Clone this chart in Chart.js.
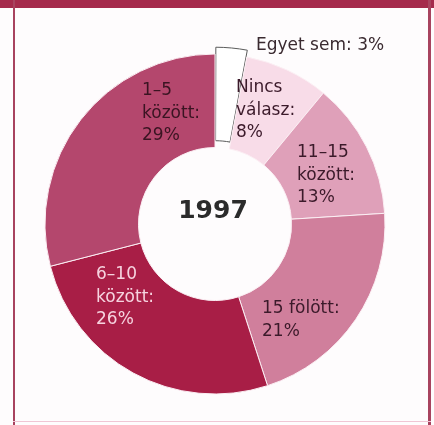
<!DOCTYPE html>
<html>
<head>
<meta charset="utf-8">
<script src="https://cdn.jsdelivr.net/npm/chart.js@4/dist/chart.umd.min.js"></script>
<style>
    html, body { margin: 0; padding: 0; background: #fff; }
    #wrap { position: relative; width: 434px; height: 425px; background: #fefcfd; overflow: hidden; }
    #wrap canvas { position: absolute; left: 0; top: 0; }
    .rule { position: absolute; }
    #top { left: 0; top: 0; width: 434px; height: 8px; background: #a52a4c; }
    #left { left: 13px; top: 0; width: 2px; height: 425px; background: #a8435f; }
    #right { left: 428px; top: 0; width: 3px; height: 425px; background: #a8435f; }
    #bottom { left: 13px; top: 421px; width: 418px; height: 1px; background: #f0c6d4; }
</style>
</head>
<body>
<div id="wrap">
    <canvas id="donut" width="434" height="425"></canvas>
    <div class="rule" id="top"></div>
    <div class="rule" id="left"></div>
    <div class="rule" id="right"></div>
    <div class="rule" id="bottom"></div>
</div>
<script>
// answers, clockwise from 12 o'clock
const categories = ["Egyet sem", "Nincs válasz", "11–15 között", "15 fölött", "6–10 között", "1–5 között"];
const shares = [3, 8, 13, 21, 26, 29];
const nameLines = [["Egyet sem:"], ["Nincs", "válasz:"], ["11–15", "között:"], ["15 fölött:"], ["6–10", "között:"], ["1–5", "között:"]];
const yearLabel = "1997";

const fills = ["#ffffff", "#f8dce8", "#dfa0b9", "#d07f9c", "#a81e46", "#b4476d"];
const edges = ["#5a5a5a", "#fbeef3", "#fbeef3", "#fbeef3", "#fbeef3", "#fbeef3"];

// text block placement relative to the ring centre: left x, first baseline y
const labelSpots = [
    { dx: 41, dy: -174, inline: true, color: "#3a2a30" },
    { dx: 21, dy: -132, color: "#3b1a2a" },
    { dx: 82, dy: -67, color: "#3b1a2a" },
    { dx: 47, dy: 89, color: "#3b1a2a" },
    { dx: -119, dy: 55, color: "#f6d3df" },
    { dx: -73, dy: -129, color: "#3a1422" }
];
const lineGap = 22.5;

const sliceLabels = {
    id: "sliceLabels",
    afterDatasetsDraw(chart) {
        const ctx = chart.ctx;
        const arcs = chart.getDatasetMeta(0).data;
        const cx = arcs[0].x, cy = arcs[0].y;
        ctx.save();
        ctx.font = "17px 'DejaVu Sans'";
        ctx.textAlign = "left";
        ctx.textBaseline = "alphabetic";
        shares.forEach((v, i) => {
            const spot = labelSpots[i];
            let lines = nameLines[i].slice();
            if (spot.inline) {
                lines[lines.length - 1] += " " + v + "%";
            } else {
                lines.push(v + "%");
            }
            ctx.fillStyle = spot.color;
            lines.forEach((t, j) => {
                ctx.fillText(t, cx + spot.dx, cy + spot.dy + j * lineGap);
            });
        });
        ctx.font = "bold 25px 'DejaVu Sans'";
        ctx.textAlign = "center";
        ctx.fillStyle = "#2b2b2b";
        ctx.fillText(yearLabel, cx - 2, cy - 6);
        ctx.restore();
    }
};

new Chart(document.getElementById("donut"), {
    type: "doughnut",
    data: {
        labels: categories,
        datasets: [{
            data: shares,
            backgroundColor: fills,
            borderColor: edges,
            borderWidth: 1,
            offset: [15, 0, 0, 0, 0, 0]
        }]
    },
    options: {
        responsive: false,
        animation: false,
        events: [],
        radius: 170,
        cutout: "45%",
        layout: {
            padding: { left: 0, right: 4, top: 23, bottom: 0 }
        },
        plugins: {
            legend: { display: false },
            tooltip: { enabled: false }
        }
    },
    plugins: [sliceLabels]
});
</script>
</body>
</html>
